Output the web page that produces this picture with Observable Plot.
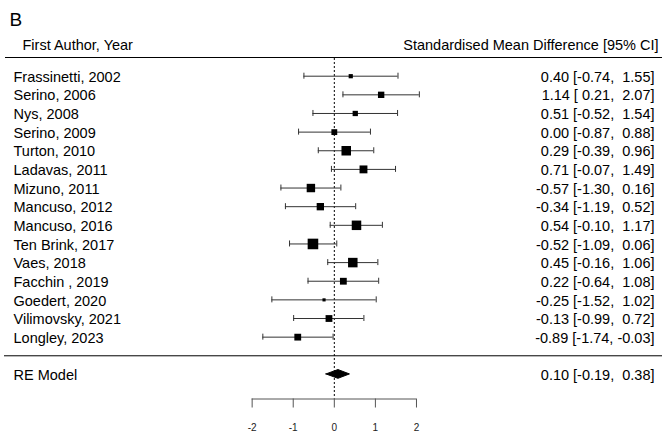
<!DOCTYPE html>
<html>
<head>
<meta charset="utf-8">
<script src="https://cdn.jsdelivr.net/npm/d3@7"></script>
<script src="https://cdn.jsdelivr.net/npm/@observablehq/plot@0.6"></script>
<style>
  html, body { margin: 0; padding: 0; background: #fff; }
  svg text { white-space: pre; }
</style>
</head>
<body>
<div id="chart"></div>
<script>
// ---- data ----
const studies = ["Frassinetti, 2002", "Serino, 2006", "Nys, 2008", "Serino, 2009", "Turton, 2010",
  "Ladavas, 2011", "Mizuno, 2011", "Mancuso, 2012", "Mancuso, 2016", "Ten Brink, 2017",
  "Vaes, 2018", "Facchin , 2019", "Goedert, 2020", "Vilimovsky, 2021", "Longley, 2023"];
const estimates = [0.40, 1.14, 0.51, 0.00, 0.29, 0.71, -0.57, -0.34, 0.54, -0.52, 0.45, 0.22, -0.25, -0.13, -0.89];
const lowers    = [-0.74, 0.21, -0.52, -0.87, -0.39, -0.07, -1.30, -1.19, -0.10, -1.09, -0.16, -0.64, -1.52, -0.99, -1.74];
const uppers    = [1.55, 2.07, 1.54, 0.88, 0.96, 1.49, 0.16, 0.52, 1.17, 0.06, 1.06, 1.08, 1.02, 0.72, -0.03];
const weights   = [3.9, 5.9, 4.9, 5.4, 8.8, 7.3, 7.8, 6.8, 8.8, 9.8, 8.8, 6.3, 2.9, 6.3, 6.3]; // % (estimated)
const reLabel = "RE Model";
const reEstimate = 0.10, reLower = -0.19, reUpper = 0.38;
const xTicks = [-2, -1, 0, 1, 2];
const title = "B";
const headerLeft = "First Author, Year";
const headerRight = "Standardised Mean Difference [95% CI]";

// ---- layout (row units as in metafor: studies k..1, separator 0, summary -1) ----
const k = studies.length;
const axisRow = -2.318, headerLineRow = 16.003, headerTextRow = 16.647, titleRow = 18.04;
const sepRow = 0, reRow = -1;
const diamondHalf = 0.235;

const f2 = v => v.toFixed(2);
const pad = v => (v >= 0 ? " " : "") + f2(v);
const ciText = (e, l, u) => `${f2(e)} [${pad(l)}, ${pad(u)}]`;

const rows = studies.map((s, i) => ({
  study: s, est: estimates[i], lo: lowers[i], hi: uppers[i], w: weights[i],
  row: k - i, label: ciText(estimates[i], lowers[i], uppers[i])
}));
const diamond = [
  {x: reLower, y1: reRow, y2: reRow},
  {x: reEstimate, y1: reRow - diamondHalf, y2: reRow + diamondHalf},
  {x: reUpper, y1: reRow, y2: reRow}
];

const chart = Plot.plot({
  width: 662, height: 433,
  marginTop: 0, marginBottom: 34.5, marginLeft: 0, marginRight: 0,
  x: {domain: [-8.126, 7.989], axis: null},
  y: {domain: [axisRow, 19.061], axis: null},
  r: {type: "linear", domain: [0, 10], range: [0, 10.8 / Math.sqrt(Math.PI)]},
  style: {fontFamily: "'Liberation Sans', Arial, sans-serif", fontSize: "14.5px", color: "#000", background: "#fff"},
  marks: [
    Plot.ruleX([0], {y1: 15.95, y2: axisRow, stroke: "#000", strokeDasharray: "2,2"}),
    Plot.ruleY([headerLineRow], {stroke: "#000", insetLeft: 5}),
    Plot.ruleY([sepRow], {stroke: "#000", insetLeft: 4}),
    Plot.ruleY(rows, {y: "row", x1: "lo", x2: "hi", stroke: "#333"}),
    Plot.ruleX(rows, {x: "lo", y1: "row", y2: "row", insetTop: -3, insetBottom: -3, stroke: "#333"}),
    Plot.ruleX(rows, {x: "hi", y1: "row", y2: "row", insetTop: -3, insetBottom: -3, stroke: "#333"}),
    Plot.dot(rows, {x: "est", y: "row", r: "w", symbol: "square", fill: "#000", stroke: null}),
    Plot.areaY(diamond, {x: "x", y1: "y1", y2: "y2", fill: "#000", stroke: "#000", strokeWidth: 1}),
    Plot.text(rows, {y: "row", text: "study", frameAnchor: "left", textAnchor: "start", dx: 13, dy: 1, fill: "#000"}),
    Plot.text(rows, {y: "row", text: "label", frameAnchor: "right", textAnchor: "end", dx: -8, dy: 1, fill: "#000"}),
    Plot.text([reRow], {y: d => d, text: () => reLabel, frameAnchor: "left", textAnchor: "start", dx: 13, dy: 1, fill: "#000"}),
    Plot.text([reRow], {y: d => d, text: () => ciText(reEstimate, reLower, reUpper), frameAnchor: "right", textAnchor: "end", dx: -8, dy: 1, fill: "#000"}),
    Plot.text([headerTextRow], {y: d => d, text: () => headerLeft, frameAnchor: "left", textAnchor: "start", dx: 22, fill: "#000"}),
    Plot.text([headerTextRow], {y: d => d, text: () => headerRight, frameAnchor: "right", textAnchor: "end", dx: -4, fill: "#000"}),
    Plot.text([titleRow], {y: d => d, text: () => title, frameAnchor: "left", textAnchor: "start", dx: 9, fontSize: 19, fill: "#000"}),
    Plot.ruleY([axisRow], {x1: d3.min(xTicks), x2: d3.max(xTicks), stroke: "#555"}),
    Plot.axisX(xTicks, {anchor: "bottom", tickSize: 9, tickPadding: 16, fontSize: 10, stroke: "#555", fill: "#222", tickFormat: d => String(d)})
  ]
});
document.getElementById("chart").appendChild(chart);
</script>
</body>
</html>
